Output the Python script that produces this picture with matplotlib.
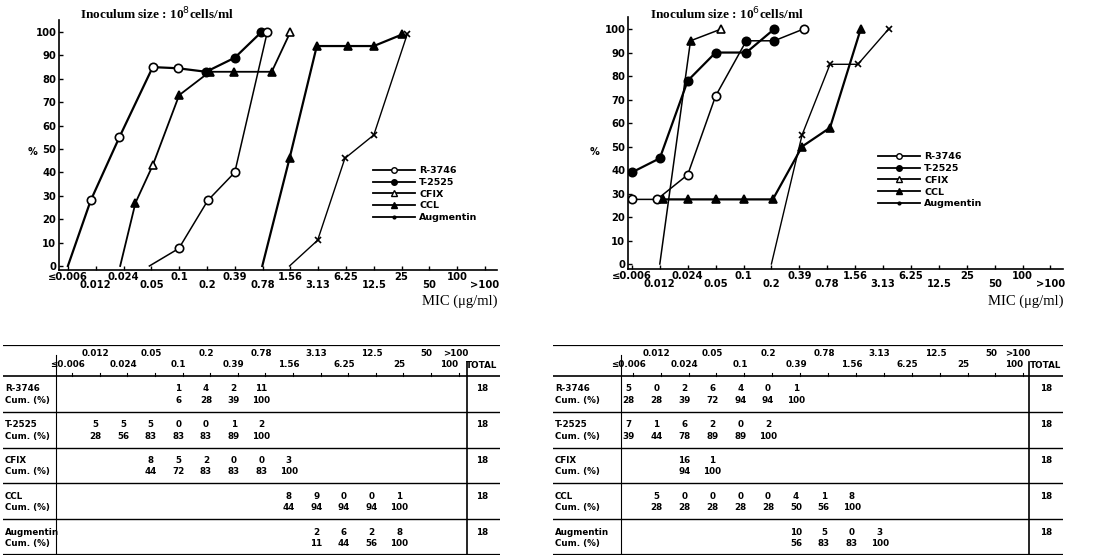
import matplotlib.pyplot as plt
from matplotlib import font_manager
from matplotlib.lines import Line2D

W, H = 1099, 556
fig = plt.figure(figsize=(W / 100, H / 100), dpi=100)

try:
    font_manager.findfont('Liberation Sans Narrow', fallback_to_default=False)
    NARROW = 'Liberation Sans Narrow'
except ValueError:
    NARROW = 'DejaVu Sans'

mic_labels = ['≤0.006', '0.012', '0.024', '0.05', '0.1', '0.2', '0.39', '0.78',
              '1.56', '3.13', '6.25', '12.5', '25', '50', '100', '>100']
drugs = ['R-3746', 'T-2525', 'CFIX', 'CCL', 'Augmentin']

# ---- chart data (x = position on the MIC scale, y = cumulative %) ----
# inoculum 10^8
a_r3746_x = [2.93, 3.99, 5.03, 6.0, 7.17]
a_r3746_y = [0, 7.5, 28, 40, 100]
a_t2525_x = [0, 0.82, 1.85, 3.05, 3.96, 4.97, 6.0, 6.96]
a_t2525_y = [0, 28, 55, 85, 84.5, 83, 89, 100]
a_cfix_x = [1.88, 2.43, 3.05, 4.0, 5.1, 5.98, 7.33, 8.0]
a_cfix_y = [0, 27, 43, 73, 83, 83, 83, 100]
a_ccl_x = [6.99, 7.97, 8.95, 10.07, 11.0, 12.03]
a_ccl_y = [0, 46, 94, 94, 94, 99]
a_aug_x = [7.97, 8.98, 9.96, 11.0, 12.2]
a_aug_y = [0, 11, 46, 56, 99]

# inoculum 10^6
b_r3746_x = [0, 0.9, 2.0, 3.0, 4.1, 5.1, 6.15]
b_r3746_y = [27.5, 27.5, 38, 71.5, 95, 95, 100]
b_t2525_x = [0, 1.0, 2.0, 3.0, 4.1, 5.1]
b_t2525_y = [39, 45, 78, 90, 90, 100]
b_cfix_x = [1.0, 2.1, 3.2]
b_cfix_y = [0, 95, 100]
b_ccl_x = [1.1, 2.0, 3.0, 4.0, 5.05, 6.1, 7.1, 8.2]
b_ccl_y = [27.5, 27.5, 27.5, 27.5, 27.5, 50, 58, 100]
b_aug_x = [5.0, 6.1, 7.1, 8.1, 9.2]
b_aug_y = [0, 55, 85, 85, 100]

# ---- table data ----
left_start = [4, 1, 3, 8, 9]
left_counts = [[1, 4, 2, 11], [5, 5, 5, 0, 0, 1, 2], [8, 5, 2, 0, 0, 3],
               [8, 9, 0, 0, 1], [2, 6, 2, 8]]
left_cum = [[6, 28, 39, 100], [28, 56, 83, 83, 83, 89, 100], [44, 72, 83, 83, 83, 100],
            [44, 94, 94, 94, 100], [11, 44, 56, 100]]
right_start = [0, 0, 2, 1, 6]
right_counts = [[5, 0, 2, 6, 4, 0, 1], [7, 1, 6, 2, 0, 2], [16, 1],
                [5, 0, 0, 0, 0, 4, 1, 8], [10, 5, 0, 3]]
right_cum = [[28, 28, 39, 72, 94, 94, 100], [39, 44, 78, 89, 89, 100], [94, 100],
             [28, 28, 28, 28, 28, 50, 56, 100], [56, 83, 83, 100]]
totals = [18, 18, 18, 18, 18]

TF = dict(family=NARROW, fontweight='bold', fontsize=6.3)


def px_axes(l, t, r, b):
    return fig.add_axes([l / W, 1 - b / H, (r - l) / W, (b - t) / H])


def draw_series(ax, xs, ys, marker, open_pts, lw):
    ax.plot(xs, ys, color='k', lw=lw, zorder=2)
    for i, (x, y) in enumerate(zip(xs, ys)):
        if y == 0:
            continue
        ms = 5 if marker == 'x' else 6
        ax.plot(x, y, marker=marker, ms=ms, ls='none', mec='k', mew=1.2,
                mfc='white' if i in open_pts else 'k', zorder=3)


def chart(ax, series, title, title_x, legend_xy, pct_x, mic_x):
    for xs, ys, m, op, lw in series:
        draw_series(ax, xs, ys, m, op, lw)
    for s in ['top', 'right']:
        ax.spines[s].set_visible(False)
    for s in ['left', 'bottom']:
        ax.spines[s].set_linewidth(1.2)
    ax.set_yticks(range(0, 101, 10))
    ax.set_xticks(range(0, 16, 2), labels=mic_labels[::2])
    ax.set_xticks(range(1, 16, 2), labels=mic_labels[1::2], minor=True)
    ax.tick_params(axis='both', which='both', direction='in', length=3, width=1,
                   labelsize=7.2)
    ax.tick_params(axis='x', which='major', pad=1.5)
    ax.tick_params(axis='x', which='minor', pad=7.5)
    ax.tick_params(axis='y', pad=2)
    for lab in ax.get_xticklabels() + ax.get_xticklabels(minor=True) + ax.get_yticklabels():
        lab.set_fontweight('bold')
        lab.set_family(NARROW)
    fig.text(title_x / W, 1 - 14 / H, title, family='Liberation Serif',
             fontweight='bold', fontsize=9.5, va='center')
    fig.text(pct_x / W, 1 - 152 / H, '%', fontweight='bold', fontsize=7, va='center')
    fig.text(mic_x / W, 1 - 301 / H, 'MIC (μg/ml)', family='Liberation Serif',
             fontsize=10.5, ha='right', va='center')
    styles = [('o', 'white'), ('o', 'k'), ('^', 'white'), ('^', 'k'), ('.', 'k')]
    handles = [Line2D([], [], color='k', lw=1.3, marker=m, mfc=fc, mec='k', ms=4)
               for m, fc in styles]
    ax.legend(handles, drugs, loc='upper left', bbox_to_anchor=(legend_xy[0] / W, 1 - legend_xy[1] / H),
              bbox_transform=fig.transFigure, frameon=False,
              prop=dict(family=NARROW, weight='bold', size=6.8),
              handlelength=4.4, handletextpad=0.5, labelspacing=0.3, borderpad=0, borderaxespad=0)


def table(ax, xlim, vline, sep, total_x, label_x, starts, counts, cums):
    ax.set_xlim(xlim)
    ax.set_ylim(5, -0.866)
    ax.axis('off')
    ax.axhline(-0.866, color='k', lw=1.6)
    ax.axhline(0, color='k', lw=1.2)
    for r in range(1, 5):
        ax.axhline(r, color='k', lw=1.0)
    ax.axhline(5, color='k', lw=1.6)
    ax.plot([vline, vline], [-0.6, 5], color='k', lw=0.8)
    ax.plot([sep, sep], [-0.4, 5], color='k', lw=1.2)
    for i, lab in enumerate(mic_labels):
        y = -0.62 if i % 2 else -0.33
        x = {14: i - 0.2, 15: sep - 0.4}.get(i, i)
        ax.text(x, y, lab, ha='center', va='center', **TF)
        if i < 15:
            ax.plot([i + 0.15, i + 0.15], [0, -0.08], color='k', lw=0.8)
    ax.text(total_x, -0.3, 'TOTAL', ha='center', va='center', **TF)
    for r, name in enumerate(drugs):
        ax.text(label_x, r + 0.36, name, ha='left', va='center', **TF)
        ax.text(label_x, r + 0.68, 'Cum. (%)', ha='left', va='center', **TF)
        for j, (c, cm) in enumerate(zip(counts[r], cums[r])):
            ax.text(starts[r] + j, r + 0.36, str(c), ha='center', va='center', **TF)
            ax.text(starts[r] + j, r + 0.68, str(cm), ha='center', va='center', **TF)
        ax.text(total_x, r + 0.36, str(totals[r]), ha='center', va='center', **TF)


# left chart (10^8 cells/ml)
ax1 = px_axes(59, 20.3, 497, 269.5)
ax1.set_xlim(-0.32, 15.43)
ax1.set_ylim(-1.5, 105)
chart(ax1, [
    (a_t2525_x, a_t2525_y, 'o', [1, 2, 3, 4], 1.6),
    (a_r3746_x, a_r3746_y, 'o', [1, 2, 3, 4], 1.1),
    (a_cfix_x, a_cfix_y, '^', [2, 7], 1.3),
    (a_ccl_x, a_ccl_y, '^', [], 1.6),
    (a_aug_x, a_aug_y, 'x', [], 1.0),
], 'Inoculum size : 10$^8$cells/ml', 80, (373, 166), 28, 497)

# right chart (10^6 cells/ml)
ax2 = px_axes(628, 17.3, 1063, 268.7)
ax2.set_xlim(-0.14, 15.45)
ax2.set_ylim(-2, 105)
chart(ax2, [
    (b_r3746_x, b_r3746_y, 'o', [0, 1, 2, 3, 6], 1.1),
    (b_t2525_x, b_t2525_y, 'o', [], 1.6),
    (b_cfix_x, b_cfix_y, '^', [2], 1.1),
    (b_ccl_x, b_ccl_y, '^', [], 1.6),
    (b_aug_x, b_aug_y, 'x', [], 1.0),
], 'Inoculum size : 10$^6$cells/ml', 650, (878, 152), 590, 1063)

# tables
t1 = px_axes(3, 345, 500, 555)
table(t1, (-2.355, 15.65), -0.43, 14.46, 15.0, -2.28, left_start, left_counts, left_cum)
t2 = px_axes(553, 345, 1063, 555)
table(t2, (-2.71, 15.57), -0.29, 14.36, 14.96, -2.64, right_start, right_counts, right_cum)

fig.savefig('out.png', dpi=100)
